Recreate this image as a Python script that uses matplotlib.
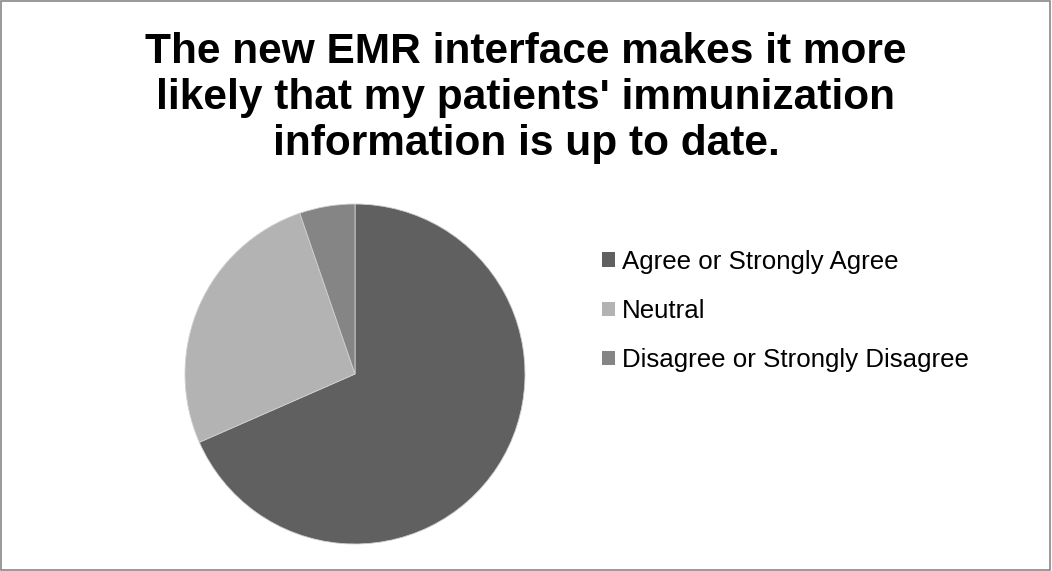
import matplotlib
matplotlib.use('Agg')
import matplotlib.pyplot as plt
from matplotlib.patches import Rectangle

# datos de la encuesta
categorias = ['Agree or Strongly Agree', 'Neutral', 'Disagree or Strongly Disagree']
respuestas = [13, 5, 1]
colores = ['#606060', '#b3b3b3', '#858585']
titulo = "The new EMR interface makes it more\nlikely that my patients' immunization\ninformation is up to date."

plt.rcParams['font.family'] = ['Liberation Sans', 'DejaVu Sans']

fig = plt.figure(figsize=(10.52, 5.71), dpi=100)
fig.patch.set_facecolor('white')

# marco gris alrededor
fig.patches.append(Rectangle((0.0005, 0.001), 0.998, 0.997, transform=fig.transFigure,
                             fill=False, edgecolor='#878787', linewidth=1.2))

# va='baseline' se ancla en la ultima linea
fig.text(0.5, 1 - 155/571, titulo, ha='center', va='baseline', fontsize=30.5,
         fontweight='bold', linespacing=1.19)

ax = fig.add_axes([185/1052, 27/571, 340/1052, 340/571])
wedges, _ = ax.pie(respuestas, colors=colores, startangle=90, counterclock=False,
                   radius=1, wedgeprops={'linewidth': 0.6, 'edgecolor': '#d0d0d0'})
ax.set_xlim(-1, 1)
ax.set_ylim(-1, 1)
ax.set_aspect('equal')
ax.axis('off')

leg = fig.legend(wedges, categorias, loc='upper left', bbox_to_anchor=(602/1052, 1 - 250/571),
                 frameon=False, fontsize=18.6, handlelength=0.5, handleheight=0.5,
                 handletextpad=0.28, labelspacing=0.97, borderpad=0, borderaxespad=0)
for h in leg.legend_handles:
    h.set_edgecolor('none')

fig.savefig('out.png', dpi=100)
